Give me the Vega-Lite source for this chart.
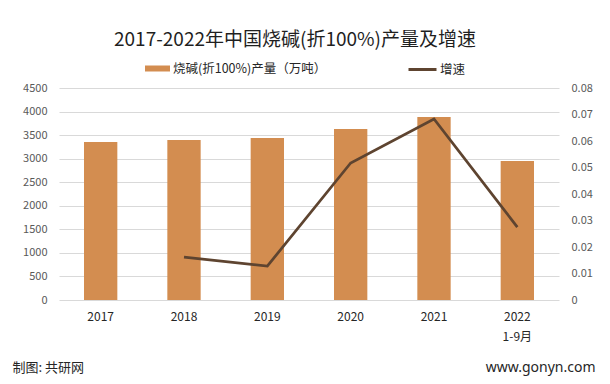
{
  "$schema": "https://vega.github.io/schema/vega-lite/v6.json",
  "width": 500,
  "height": 212,
  "autosize": {"type": "none"},
  "padding": {"left": 59, "top": 88, "right": 51, "bottom": 84},
  "background": "white",
  "config": {"view": {"stroke": null}, "font": "Noto Sans CJK SC"},
  "title": {
    "text": "2017-2022年中国烧碱(折100%)产量及增速",
    "font": "Noto Sans CJK SC",
    "fontSize": 19,
    "fontWeight": "normal",
    "color": "#1f1f1f",
    "anchor": "middle",
    "dx": -14,
    "offset": 4
  },
  "data": {
    "values": [
      {"year": "2017", "output": 3354},
      {"year": "2018", "output": 3396, "growth": 0.0162},
      {"year": "2019", "output": 3439, "growth": 0.0128},
      {"year": "2020", "output": 3630, "growth": 0.0517},
      {"year": "2021", "output": 3884, "growth": 0.0683},
      {"year": "2022", "output": 2950, "growth": 0.0275}
    ]
  },
  "layer": [
    {
      "mark": {"type": "bar"},
      "encoding": {
        "x": {
          "field": "year",
          "type": "ordinal",
          "scale": {"paddingInner": 0.6, "paddingOuter": 0.3},
          "axis": {
            "title": "制图: 共研网",
            "titleX": -47,
            "titleY": 67,
            "titleAlign": "left",
            "titleBaseline": "middle",
            "titleFont": "Noto Sans CJK SC",
            "titleFontSize": 13,
            "titleFontWeight": "normal",
            "titleColor": "#262626",
            "labelAngle": 0,
            "labelFont": "Noto Sans CJK SC",
            "labelFontSize": 12,
            "labelColor": "#262626",
            "labelPadding": 11,
            "labelLineHeight": 20,
            "labelExpr": "datum.value == '2022' ? ['2022', '1-9月'] : datum.value",
            "domain": false,
            "ticks": false,
            "tickSize": 0,
            "grid": false
          }
        },
        "y": {
          "field": "output",
          "type": "quantitative",
          "scale": {"domain": [0, 4500], "nice": false},
          "axis": {
            "title": null,
            "values": [0, 500, 1000, 1500, 2000, 2500, 3000, 3500, 4000, 4500],
            "format": "d",
            "grid": true,
            "gridColor": "#D9D9D9",
            "domain": false,
            "ticks": false,
            "tickSize": 0,
            "labelPadding": 12,
            "labelFont": "Noto Sans CJK SC",
            "labelFontSize": 11,
            "labelColor": "#595959"
          }
        },
        "fill": {
          "datum": "烧碱(折100%)产量（万吨）",
          "scale": {"range": ["#D38D50"]},
          "legend": {
            "title": null,
            "orient": "none",
            "legendX": 86,
            "legendY": -32,
            "padding": 0,
            "symbolType": "M-1,-0.24H1V0.24H-1Z",
            "symbolSize": 625,
            "symbolStrokeWidth": 0,
            "labelOffset": 3,
            "labelFont": "Noto Sans CJK SC",
            "labelFontSize": 12.5,
            "labelColor": "#262626"
          }
        }
      }
    },
    {
      "mark": {"type": "line", "strokeWidth": 2.75},
      "encoding": {
        "x": {"field": "year", "type": "ordinal"},
        "y": {
          "field": "growth",
          "type": "quantitative",
          "scale": {"domain": [0, 0.08], "nice": false},
          "axis": {
            "orient": "right",
            "title": "www.gonyn.com",
            "titleAngle": 0,
            "titleX": 36,
            "titleY": 279,
            "titleAlign": "right",
            "titleBaseline": "middle",
            "titleFont": "Noto Sans",
            "titleFontSize": 14,
            "titleFontWeight": "normal",
            "titleColor": "#262626",
            "values": [0, 0.01, 0.02, 0.03, 0.04, 0.05, 0.06, 0.07, 0.08],
            "format": "~g",
            "grid": false,
            "domain": false,
            "ticks": false,
            "tickSize": 0,
            "labelPadding": 12,
            "labelFont": "Noto Sans CJK SC",
            "labelFontSize": 11,
            "labelColor": "#595959"
          }
        },
        "stroke": {
          "datum": "增速",
          "scale": {"range": ["#5E4430"]},
          "legend": {
            "title": null,
            "orient": "none",
            "legendX": 348,
            "legendY": -34,
            "padding": 0,
            "symbolType": "stroke",
            "symbolSize": 784,
            "symbolStrokeWidth": 3,
            "labelOffset": 2,
            "labelFont": "Noto Sans CJK SC",
            "labelFontSize": 12.5,
            "labelColor": "#262626"
          }
        }
      }
    }
  ],
  "resolve": {"scale": {"y": "independent"}}
}
